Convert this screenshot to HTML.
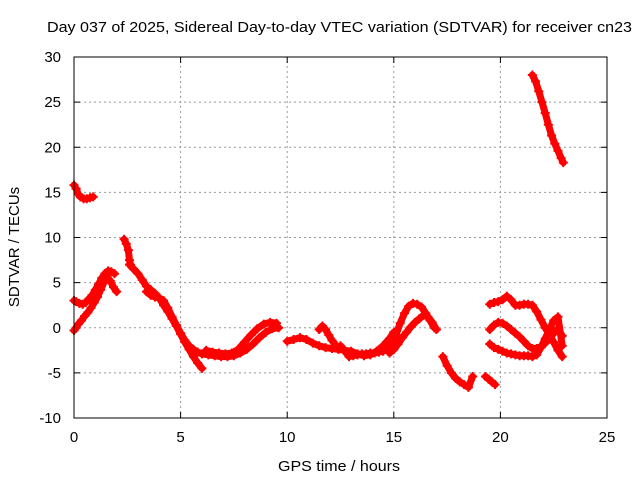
<!DOCTYPE html>
<html><head><meta charset="utf-8"><style>
body{margin:0;background:#fff;}
svg text{font-family:"Liberation Sans",sans-serif;font-size:15px;fill:#000;}
</style></head><body>
<svg id="chart" width="640" height="480" xmlns="http://www.w3.org/2000/svg">
<rect width="640" height="480" fill="#fff"/>
<text x="47" y="32" textLength="585" lengthAdjust="spacingAndGlyphs">Day 037 of 2025, Sidereal Day-to-day VTEC variation (SDTVAR) for receiver cn23</text>
<g id="grid"></g>
<g id="ticks"></g>
<g id="marks"></g>
<rect x="74" y="57" width="533" height="361" fill="none" stroke="#000" stroke-width="1"/>
<text x="278" y="471" textLength="122" lengthAdjust="spacingAndGlyphs">GPS time / hours</text>
<text transform="translate(19,247) rotate(-90)" text-anchor="middle">SDTVAR / TECUs</text>
</svg>
<script>
const xTicks=[0,5,10,15,20,25];
const yTicks=[-10,-5,0,5,10,15,20,25,30];
const t1=[0,0.1,0.2,0.3,0.45,0.6,0.75,0.9];
const v1=[15.8,15.4,14.8,14.5,14.3,14.3,14.4,14.5];
const t2=[0,0.1,0.25,0.4,0.55,0.7,0.85,1.0,1.15,1.3,1.45,1.6,1.75,1.9];
const v2=[3,2.9,2.7,2.6,2.8,3.2,3.6,4.2,4.8,5.5,6,6.3,6.2,6];
const t3=[0,0.1,0.2,0.35,0.5,0.65,0.8,0.95,1.1,1.25,1.4,1.55,1.7,1.85,2.0];
const v3=[-0.3,0,0.4,0.8,1.3,1.7,2.2,2.8,3.4,4.2,5,5.6,5.2,4.5,4];
const t4=[2.35,2.45,2.55,2.6,2.65];
const v4=[9.8,9.3,8.6,7.5,7];
const t5=[2.6,2.8,3.0,3.2,3.4,3.6,3.8,4.0,4.2,4.4,4.6,4.8,5.0,5.2,5.4,5.6,5.8,6.0];
const v5=[7,6.5,6,5.3,4.6,4.2,3.8,3.3,2.5,1.8,1,0.2,-0.7,-1.6,-2.4,-3.2,-3.9,-4.5];
const t6=[3.4,3.6,3.8,4.0,4.2,4.4,4.6,4.8,5.0,5.2,5.4,5.6,5.8,6.0,6.3,6.6,6.9,7.2,7.5,7.8,8.1,8.4,8.7,9.0,9.3,9.6];
const v6=[4,3.6,3.4,3.3,3,2.2,1.2,0.3,-0.6,-1.4,-2,-2.4,-2.7,-2.9,-3,-3.1,-3.2,-3.2,-3.1,-2.8,-2.4,-1.8,-1.1,-0.5,-0.1,0];
const t7=[6.2,6.5,6.8,7.1,7.4,7.7,8.0,8.3,8.6,8.9,9.2,9.5];
const v7=[-2.5,-2.7,-2.8,-2.9,-2.8,-2.4,-1.6,-0.8,-0.1,0.4,0.6,0.5];
const t8=[10,10.3,10.6,10.9,11.2,11.5,11.8,12.1,12.4,12.7,13.0,13.3,13.6,13.9,14.2,14.5,14.8,15.0];
const v8=[-1.5,-1.3,-1.1,-1.3,-1.7,-2,-2.2,-2.3,-2.4,-2.5,-2.6,-2.9,-3.1,-3,-2.6,-2,-1.2,-0.5];
const t9=[11.5,11.65,11.8,11.95,12.1,12.3];
const v9=[-0.2,0.2,-0.2,-0.8,-1.4,-2];
const t10=[12.5,12.7,12.9,13.1,13.3,13.5,13.7,13.9,14.1,14.3,14.5,14.7,14.9,15.1,15.3,15.5,15.7,15.9,16.1,16.3,16.5,16.7,16.9];
const v10=[-2,-2.6,-3.2,-3.1,-3,-2.9,-2.9,-2.8,-2.8,-2.7,-2.6,-2.3,-1.6,-0.8,0.5,1.6,2.4,2.7,2.6,2.3,1.6,0.8,0];
const t11=[14.8,15.0,15.2,15.4,15.6,15.8,16.0,16.2,16.4,16.6,16.8,17.0];
const v11=[-2.8,-2.4,-1.8,-1.1,-0.5,0.1,0.6,1,1.4,1.2,0.6,-0.2];
const t12=[17.3,17.5,17.7,17.9,18.1,18.3,18.5,18.7];
const v12=[-3.2,-4.2,-5,-5.6,-6,-6.3,-6.6,-5.4];
const t13=[19.3,19.45,19.6,19.75];
const v13=[-5.4,-5.7,-6,-6.3];
const t14=[19.5,19.7,19.9,20.1,20.3,20.5,20.7,20.9,21.1,21.3,21.5,21.7,21.9,22.1,22.3,22.5,22.7,22.9];
const v14=[2.6,2.8,2.9,3.1,3.5,3.1,2.5,2.5,2.6,2.6,2.5,1.8,0.9,0,-0.8,-1.6,-2.5,-3.2];
const t15=[19.5,19.7,19.9,20.1,20.3,20.5,20.7,20.9,21.1,21.3,21.5,21.7,21.9,22.1,22.3,22.5,22.7,22.9];
const v15=[-0.2,0.3,0.6,0.5,0.2,-0.2,-0.6,-1,-1.5,-2,-2.3,-2.3,-2.1,-1.7,-1.2,-0.6,-0.1,-0.9];
const t16=[19.5,19.7,19.9,20.1,20.3,20.5,20.7,20.9,21.1,21.3,21.5,21.7,21.9,22.1,22.3,22.5,22.7,22.9];
const v16=[-1.8,-2.2,-2.4,-2.6,-2.8,-2.9,-3,-3.1,-3.1,-3.1,-3.2,-3,-2.2,-1.2,-0.2,0.8,1.2,-2];
const t17=[21.5,21.65,21.8,21.95,22.1,22.25,22.4,22.55,22.7,22.85,22.95];
const v17=[28,27.3,26.2,25,23.8,22.5,21.3,20.4,19.6,18.8,18.3];
const tracks=[[t1,v1],[t2,v2],[t3,v3],[t4,v4],[t5,v5],[t6,v6],[t7,v7],[t8,v8],[t9,v9],[t10,v10],[t11,v11],[t12,v12],[t13,v13],[t14,v14],[t15,v15],[t16,v16],[t17,v17]];
const X0=74,X1=607,Y0=418,Y1=57;
const xs=v=>X0+(v-0)/(25-0)*(X1-X0);
const ys=v=>Y0-(v+10)/(40)*(Y0-Y1);
const NS="http://www.w3.org/2000/svg";
const grid=document.getElementById('grid'),ticks=document.getElementById('ticks'),marks=document.getElementById('marks');
function mk(tag,attrs,parent){const e=document.createElementNS(NS,tag);for(const k in attrs)e.setAttribute(k,attrs[k]);parent.appendChild(e);return e;}
xTicks.forEach(v=>{const x=xs(v);
 if(v>0&&v<25){const g=mk('line',{x1:x,x2:x,y1:Y0,y2:Y1,stroke:'#999','stroke-dasharray':'2,3'},grid);
 
 }
 mk('line',{x1:x,x2:x,y1:Y0,y2:Y0-6,stroke:'#000'},ticks);mk('line',{x1:x,x2:x,y1:Y1,y2:Y1+6,stroke:'#000'},ticks);
 const t=mk('text',{x:x,y:Y0+24,'text-anchor':'middle'},ticks);t.textContent=v;
 
 });
yTicks.forEach(v=>{const y=ys(v);
 if(v>-10&&v<30){const g=mk('line',{x1:X0,x2:X1,y1:y,y2:y,stroke:'#999','stroke-dasharray':'2,3'},grid);
 
 }
 mk('line',{x1:X0,x2:X0+6,y1:y,y2:y,stroke:'#000'},ticks);mk('line',{x1:X1,x2:X1-6,y1:y,y2:y,stroke:'#000'},ticks);
 const t=mk('text',{x:X0-13,y:y+5,'text-anchor':'end'},ticks);t.textContent=v;
 
 });
tracks.forEach(([ts,vs])=>{
 const pts=ts.map((t,i)=>xs(t)+','+ys(vs[i])).join(' ');
 const pl=mk('polyline',{points:pts,fill:'none',stroke:'#f00','stroke-width':7,'stroke-linejoin':'round','stroke-linecap':'round'},marks);
 
 
 ts.forEach((t,i)=>{const x=xs(t),y=ys(vs[i]);
  const p=mk('path',{d:`M${x-4.5},${y}H${x+4.5}M${x},${y-4.5}V${y+4.5}`,stroke:'#f00','stroke-width':2},marks);
  
  });
});
</script>
</body></html>
